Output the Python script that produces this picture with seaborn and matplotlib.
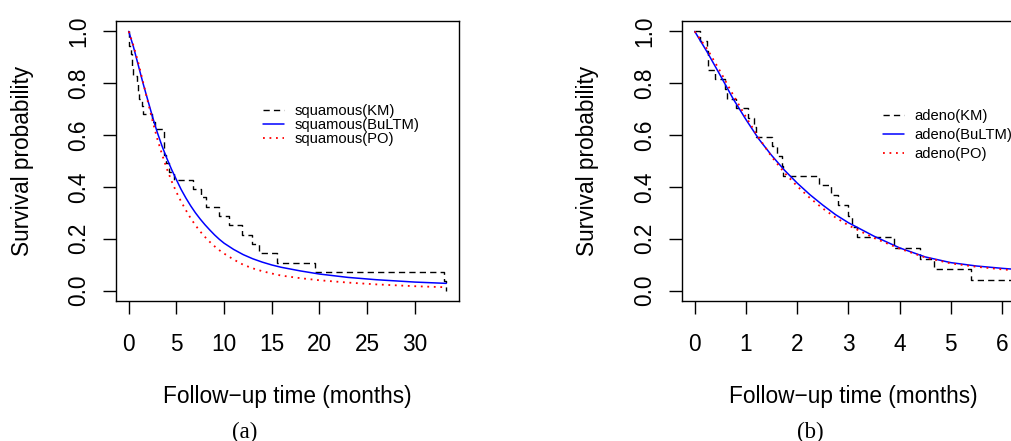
import matplotlib
matplotlib.use("Agg")
import matplotlib.pyplot as plt
import seaborn as sns
import numpy as np

# ---------------- data ----------------
# Panel (a): squamous
sq_km_time = [0, 0.033, 0.267, 0.333, 0.367, 0.5, 0.833, 1.0, 1.1, 1.4, 1.467, 2.4, 2.733,
              3.667, 3.7, 3.733, 3.933, 4.2, 4.8, 6.7, 7.6, 8.067, 9.433, 10.467, 11.9,
              12.967, 13.7, 15.567, 19.567, 33.033, 33.3]
sq_km_surv = [1.0, 0.943, 0.914, 0.886, 0.857, 0.829, 0.800, 0.770, 0.741, 0.711, 0.681,
              0.652, 0.622, 0.589, 0.557, 0.524, 0.491, 0.458, 0.426, 0.393, 0.360, 0.324,
              0.288, 0.252, 0.216, 0.180, 0.144, 0.108, 0.072, 0.036, 0.0]

sq_curve_time = [0, 0.5, 1, 1.5, 2, 2.5, 3, 3.5, 4, 4.5, 5, 5.5, 6, 6.5, 7, 7.5, 8, 8.5, 9,
                 9.5, 10, 11, 12, 13, 14, 15, 16, 18, 20, 23, 26, 30, 33.3]
sq_bultm = [1.0, 0.94, 0.87, 0.80, 0.735, 0.67, 0.61, 0.557, 0.51, 0.467, 0.428, 0.39, 0.357,
            0.327, 0.30, 0.276, 0.254, 0.234, 0.215, 0.198, 0.183, 0.159, 0.139, 0.123, 0.11,
            0.099, 0.09, 0.076, 0.064, 0.051, 0.042, 0.033, 0.028]
sq_po = [1.0, 0.945, 0.88, 0.805, 0.73, 0.655, 0.585, 0.525, 0.47, 0.422, 0.38, 0.343, 0.31,
         0.279, 0.252, 0.228, 0.207, 0.188, 0.171, 0.156, 0.143, 0.12, 0.10, 0.086, 0.075,
         0.066, 0.058, 0.048, 0.04, 0.031, 0.024, 0.017, 0.013]

# Panel (b): adeno
ad_km_time = [0, 0.1, 0.233, 0.267, 0.4, 0.6, 0.633, 0.8, 1.033, 1.167, 1.2, 1.5, 1.6, 1.7,
              1.733, 2.433, 2.667, 2.8, 3.0, 3.067, 3.167, 3.9, 4.4, 4.667, 5.4, 6.2]
ad_km_surv = [1.0, 0.963, 0.926, 0.852, 0.815, 0.778, 0.741, 0.704, 0.667, 0.630, 0.593,
              0.556, 0.519, 0.481, 0.444, 0.407, 0.370, 0.329, 0.288, 0.247, 0.206, 0.165,
              0.123, 0.082, 0.041, 0.0]

ad_curve_time = [0, 0.25, 0.5, 0.75, 1, 1.25, 1.5, 1.75, 2, 2.25, 2.5, 2.75, 3, 3.5, 4, 4.5,
                 5, 5.5, 6, 6.2]
ad_bultm = [1.0, 0.918, 0.83, 0.74, 0.66, 0.585, 0.522, 0.465, 0.415, 0.37, 0.33, 0.293,
            0.262, 0.21, 0.165, 0.13, 0.108, 0.095, 0.086, 0.083]
ad_po = [1.0, 0.93, 0.845, 0.755, 0.67, 0.59, 0.517, 0.455, 0.403, 0.357, 0.317, 0.282,
         0.252, 0.203, 0.162, 0.128, 0.105, 0.092, 0.082, 0.079]

sq_ticks = [0, 5, 10, 15, 20, 25, 30]
ad_ticks = [0, 1, 2, 3, 4, 5, 6]
y_ticks = [0.0, 0.2, 0.4, 0.6, 0.8, 1.0]

sq_labels = ["squamous(KM)", "squamous(BuLTM)", "squamous(PO)"]
ad_labels = ["adeno(KM)", "adeno(BuLTM)", "adeno(PO)"]

# ---------------- style ----------------
sns.set_theme(style="white")
plt.rcParams["font.family"] = ["Liberation Sans", "DejaVu Sans"]
plt.rcParams["axes.edgecolor"] = "black"
plt.rcParams["axes.linewidth"] = 1.0
plt.rcParams["text.color"] = "black"
plt.rcParams["axes.labelcolor"] = "black"
plt.rcParams["xtick.color"] = "black"
plt.rcParams["ytick.color"] = "black"
plt.rcParams["legend.labelcolor"] = "black"

FS = 16.3
DASH = (0, (4.5, 3.0))
DOT = (0, (1.0, 2.6))

fig = plt.figure(figsize=(10.12, 4.41), dpi=100)
ax_a = fig.add_axes([116 / 1012, (441 - 301) / 441, 343 / 1012, 280 / 441])
ax_b = fig.add_axes([682 / 1012, (441 - 301) / 441, 343 / 1012, 280 / 441])


def draw(ax, km_t, km_s, ct, bl, po, labels, xticks, xmax, leg_xy, leg_spacing):
    sns.lineplot(x=km_t, y=km_s, ax=ax, color="black", linestyle=DASH, linewidth=1.0,
                 drawstyle="steps-post", estimator=None, sort=False, label=labels[0])
    sns.lineplot(x=ct, y=bl, ax=ax, color="#0000FF", linestyle="-", linewidth=1.1,
                 estimator=None, sort=False, label=labels[1])
    sns.lineplot(x=ct, y=po, ax=ax, color="#FF0000", linestyle=DOT, linewidth=1.3,
                 estimator=None, sort=False, label=labels[2])
    pad = 0.04 * xmax
    ax.set_xlim(-pad, xmax + pad)
    ax.set_ylim(-0.04, 1.04)
    ax.set_xticks(xticks)
    ax.set_xticklabels([str(t) for t in xticks])
    ax.set_yticks(y_ticks)
    ax.set_yticklabels([f"{v:.1f}" for v in y_ticks], rotation=90, va="center")
    ax.tick_params(axis="both", which="major", direction="out", length=9.4, width=1.0,
                   colors="black", labelsize=FS, bottom=True, left=True)
    ax.tick_params(axis="x", pad=13.5)
    ax.tick_params(axis="y", pad=9)
    for s in ax.spines.values():
        s.set_visible(True)
        s.set_color("black")
        s.set_linewidth(1.0)
    ax.set_xlabel("Follow\u2212up time (months)", fontsize=FS, color="black")
    ax.set_ylabel("Survival probability", fontsize=FS, color="black")
    ax.xaxis.set_label_coords(0.5, (301 - 397) / 280)
    ax.xaxis.label.set_va("center")
    ax.yaxis.set_label_coords((22 - 116) / 343, 0.5)
    ax.yaxis.label.set_va("center")
    leg = ax.legend(loc="center left", bbox_to_anchor=leg_xy, frameon=False, fontsize=10.6,
                    handlelength=1.4, handletextpad=0.75, labelspacing=leg_spacing,
                    borderpad=0, borderaxespad=0)
    for t in leg.get_texts():
        t.set_color("black")
    ax.grid(False)


draw(ax_a, sq_km_time, sq_km_surv, sq_curve_time, sq_bultm, sq_po, sq_labels, sq_ticks,
     33.3, ((263 - 116) / 343, (301 - 125) / 280), 0.0)
draw(ax_b, ad_km_time, ad_km_surv, ad_curve_time, ad_bultm, ad_po, ad_labels, ad_ticks,
     6.2, ((883 - 682) / 343, (301 - 135) / 280), 0.35)

fig.text(245 / 1012, 1 - 432 / 441, "(a)", ha="center", va="center", fontsize=16.5,
         color="black", family=["Liberation Serif", "DejaVu Serif"])
fig.text(810 / 1012, 1 - 432 / 441, "(b)", ha="center", va="center", fontsize=16.5,
         color="black", family=["Liberation Serif", "DejaVu Serif"])

fig.savefig("out.png", dpi=100)
